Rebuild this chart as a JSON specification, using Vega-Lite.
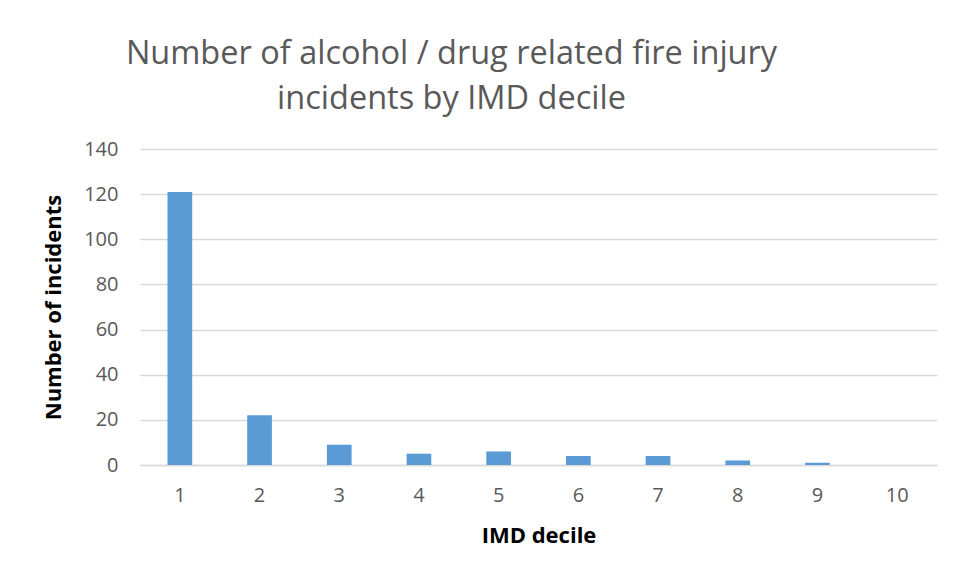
{
  "$schema": "https://vega.github.io/schema/vega-lite/v6.json",
  "width": 797,
  "height": 316,
  "autosize": "none",
  "padding": {"left": 140, "top": 149, "right": 28, "bottom": 118},
  "background": "white",
  "title": {
    "text": ["Number of alcohol / drug related fire injury", "incidents by IMD decile"],
    "font": "Open Sans",
    "fontSize": 32.5,
    "fontWeight": "normal",
    "color": "#595959",
    "anchor": "middle",
    "dx": -87,
    "lineHeight": 45,
    "offset": 24
  },
  "data": {
    "values": [
      {"decile": "1", "incidents": 121},
      {"decile": "2", "incidents": 22},
      {"decile": "3", "incidents": 9},
      {"decile": "4", "incidents": 5},
      {"decile": "5", "incidents": 6},
      {"decile": "6", "incidents": 4},
      {"decile": "7", "incidents": 4},
      {"decile": "8", "incidents": 2},
      {"decile": "9", "incidents": 1},
      {"decile": "10", "incidents": 0}
    ]
  },
  "mark": {"type": "bar", "color": "#5b9bd5"},
  "encoding": {
    "x": {
      "field": "decile",
      "type": "ordinal",
      "sort": null,
      "scale": {"paddingInner": 0.69, "paddingOuter": 0.345},
      "axis": {
        "title": "IMD decile",
        "titleFont": "Open Sans",
        "titleFontSize": 22,
        "titleFontWeight": "bold",
        "titleColor": "#000000",
        "titlePadding": 20,
        "labelAngle": 0,
        "labelFont": "Open Sans",
        "labelFontSize": 20,
        "labelColor": "#595959",
        "labelPadding": 20,
        "ticks": false,
        "domainColor": "#d9d9d9",
        "domainWidth": 1.5
      }
    },
    "y": {
      "field": "incidents",
      "type": "quantitative",
      "scale": {"domain": [0, 140]},
      "axis": {
        "title": "Number of incidents",
        "titleFont": "Open Sans",
        "titleFontSize": 22,
        "titleFontWeight": "bold",
        "titleColor": "#000000",
        "titlePadding": 18,
        "values": [0, 20, 40, 60, 80, 100, 120, 140],
        "labelFont": "Open Sans",
        "labelFontSize": 20,
        "labelColor": "#595959",
        "labelPadding": 22,
        "ticks": false,
        "domain": false,
        "gridColor": "#d9d9d9",
        "gridWidth": 1.5
      }
    }
  },
  "config": {"view": {"stroke": null}}
}
